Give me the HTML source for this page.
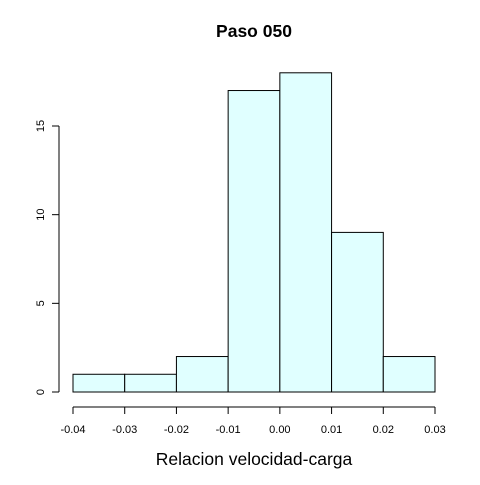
<!DOCTYPE html>
<html><head><meta charset="utf-8"><style>
body{margin:0;background:#fff}
svg text{font-family:"Liberation Sans",Arial,sans-serif}
</style></head><body>
<svg id="c" width="480" height="480" xmlns="http://www.w3.org/2000/svg">
<rect width="480" height="480" fill="#fff"/>
<text x="254" y="37" font-size="17.5" font-weight="bold" text-anchor="middle">Paso 050</text>
<text x="254" y="465" font-size="17.5" text-anchor="middle">Relacion velocidad-carga</text>
<g id="bars"></g><g id="xaxis"></g><g id="yaxis"></g>
</svg>
<script>
const breaks=[-0.04,-0.03,-0.02,-0.01,0.00,0.01,0.02,0.03];
const counts=[1,1,2,17,18,9,2];
const xTicks=["-0.04","-0.03","-0.02","-0.01","0.00","0.01","0.02","0.03"];
const yTicks=[0,5,10,15];
const NS="http://www.w3.org/2000/svg";
function sx(v){return 73+(v+0.04)/0.07*362;}
function sy(v){return 392-v*(266/15);}
function mk(t,a,p){const e=document.createElementNS(NS,t);for(const k in a)e.setAttribute(k,a[k]);p.appendChild(e);return e;}
const bars=document.getElementById('bars');
counts.forEach((c,i)=>{
 const x0=sx(breaks[i]),x1=sx(breaks[i+1]);
 const r=mk('rect',{x:x0,y:sy(c),width:x1-x0,height:sy(0)-sy(c),fill:'#E0FFFF',stroke:'#000','stroke-width':1},bars);
 
 
});
const xa=document.getElementById('xaxis');


mk('line',{x1:sx(breaks[0]),x2:sx(breaks[breaks.length-1]),y1:407,y2:407,stroke:'#000'},xa);
xTicks.forEach((t,i)=>{
 const x=sx(parseFloat(t));
 mk('line',{x1:x,x2:x,y1:407,y2:414,stroke:'#000'},xa);
 const tx=mk('text',{x:x,y:433,'font-size':11,'text-anchor':'middle'},xa);
 tx.textContent=t;
 
 
});
const ya=document.getElementById('yaxis');


mk('line',{x1:59,x2:59,y1:sy(yTicks[0]),y2:sy(yTicks[yTicks.length-1]),stroke:'#000'},ya);
yTicks.forEach(v=>{
 const y=sy(v);
 mk('line',{x1:52,x2:59,y1:y,y2:y,stroke:'#000'},ya);
 const tx=mk('text',{x:44,y:y,'font-size':11,'text-anchor':'middle',transform:`rotate(-90 44 ${y})`},ya);
 tx.textContent=v;
 
 
});
</script>
</body></html>
